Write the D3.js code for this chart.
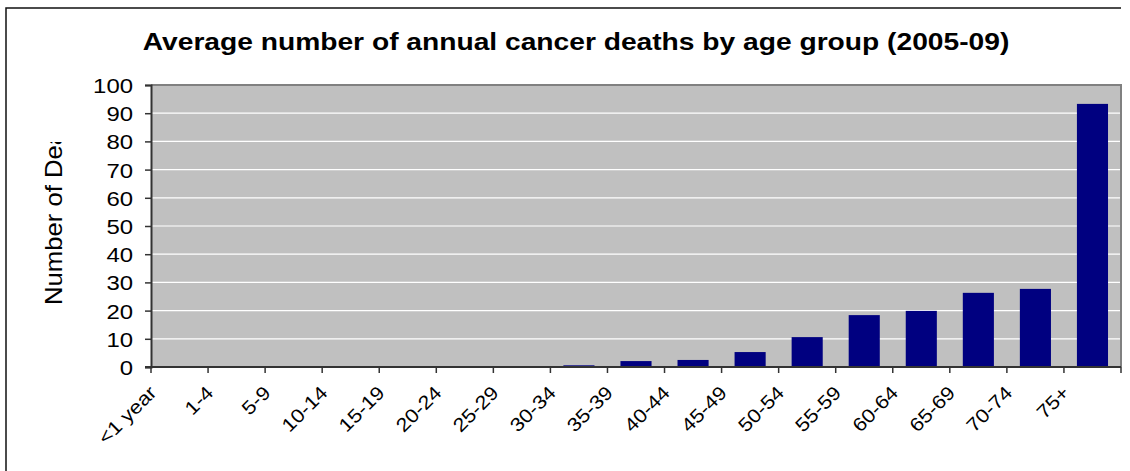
<!DOCTYPE html>
<html>
<head>
<meta charset="utf-8">
<script src="https://cdn.jsdelivr.net/npm/d3@7"></script>
<style>
  html, body { margin: 0; padding: 0; background: #fff; }
  svg { display: block; font-family: "Liberation Sans", Arial, sans-serif; }
</style>
</head>
<body>
<svg id="chart" width="1130" height="471"></svg>
<script>
const title = "Average number of annual cancer deaths by age group (2005-09)";
const yLabel = "Number of Deaths";
const categories = ["<1 year","1-4","5-9","10-14","15-19","20-24","25-29","30-34","35-39","40-44","45-49","50-54","55-59","60-64","65-69","70-74","75+"];
const deaths = [0,0,0,0,0,0,0,0.6,2.1,2.5,5.3,10.6,18.4,19.9,26.3,27.7,93.3];
const yTicks = [0,10,20,30,40,50,60,70,80,90,100];

const svg = d3.select("#chart");
const plot = {left: 151, right: 1121, top: 85, bottom: 367};

const x = d3.scaleBand().domain(categories).range([plot.left, plot.right]).padding(0);
const y = d3.scaleLinear().domain([0, 100]).range([plot.bottom, plot.top]);

// outer frame (left and top)
svg.append("path")
  .attr("d", `M6,471 L6,8 L${plot.right},8`)
  .attr("fill", "none").attr("stroke", "#111").attr("stroke-width", 1.5);

// title
svg.append("text")
  .attr("transform", "translate(576,50) scale(1.2,1)")
  .attr("text-anchor", "middle")
  .attr("font-size", 23.5).attr("font-weight", "bold").attr("fill", "#000")
  .text(title);

// plot background
svg.append("rect")
  .attr("x", plot.left).attr("y", plot.top)
  .attr("width", plot.right - plot.left).attr("height", plot.bottom - plot.top)
  .attr("fill", "#c0c0c0");

// gridlines
svg.append("g").selectAll("line").data(yTicks.filter(d => d > 0 && d < 100)).join("line")
  .attr("x1", plot.left).attr("x2", plot.right)
  .attr("y1", d => y(d)).attr("y2", d => y(d))
  .attr("stroke", "#ffffff").attr("stroke-width", 1.2);

// top and right border
svg.append("path")
  .attr("d", `M${plot.left},${plot.top} L${plot.right},${plot.top} L${plot.right},${plot.bottom}`)
  .attr("fill", "none").attr("stroke", "#808080").attr("stroke-width", 2);

// bars
const barW = x.bandwidth() * 0.545;
svg.append("g").selectAll("rect").data(categories).join("rect")
  .attr("x", (d) => x(d) + (x.bandwidth() - barW) / 2)
  .attr("width", barW)
  .attr("y", (d, i) => y(deaths[i]))
  .attr("height", (d, i) => y(0) - y(deaths[i]))
  .attr("fill", "#000080");

// y axis
const yAxis = svg.append("g")
  .attr("transform", `translate(${plot.left},0)`)
  .call(d3.axisLeft(y).tickValues(yTicks).tickSize(6).tickPadding(12));
yAxis.select(".domain").attr("stroke", "#333").attr("stroke-width", 2);
yAxis.selectAll(".tick line").attr("stroke", "#333").attr("stroke-width", 1.5);
yAxis.selectAll(".tick text")
  .attr("x", null).attr("dy", "0.36em")
  .attr("transform", "translate(-18,0) scale(1.14,1)")
  .attr("text-anchor", "end")
  .attr("font-size", 21).attr("font-family", "Liberation Sans, Arial, sans-serif")
  .attr("fill", "#000");

// x axis: labels via axis, ticks at category boundaries
const xAxis = svg.append("g")
  .attr("transform", `translate(0,${plot.bottom})`)
  .call(d3.axisBottom(x).tickSize(0).tickPadding(0));
xAxis.select(".domain").remove();
xAxis.selectAll(".tick text")
  .attr("y", null).attr("dy", null)
  .attr("transform", `translate(${-22},27) rotate(-45) scale(1.14,1)`)
  .attr("text-anchor", "end")
  .attr("font-size", 19).attr("font-family", "Liberation Sans, Arial, sans-serif")
  .attr("fill", "#000");

const boundaries = categories.map(c => x(c)).concat([x.range()[1]]);
svg.append("g").selectAll("line").data(boundaries).join("line")
  .attr("x1", d => d).attr("x2", d => d)
  .attr("y1", plot.bottom).attr("y2", plot.bottom + 6)
  .attr("stroke", "#333").attr("stroke-width", 1.5);

svg.append("line")
  .attr("x1", plot.left - 6).attr("x2", plot.right)
  .attr("y1", plot.bottom).attr("y2", plot.bottom)
  .attr("stroke", "#333").attr("stroke-width", 2);

// y-axis title (clipped as in original)
svg.append("clipPath").attr("id", "ylabclip")
  .append("rect").attr("x", 0).attr("y", 142).attr("width", 140).attr("height", 329);
svg.append("g").attr("clip-path", "url(#ylabclip)")
  .append("text")
  .attr("transform", "translate(62,305) rotate(-90) scale(1.07,1)")
  .attr("text-anchor", "start")
  .attr("font-size", 24).attr("fill", "#000")
  .text(yLabel);
</script>
</body>
</html>
